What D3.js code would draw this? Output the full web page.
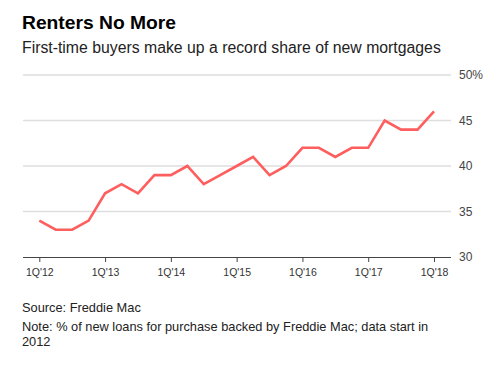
<!DOCTYPE html>
<html><head><meta charset="utf-8">
<script src="https://cdn.jsdelivr.net/npm/d3@7"></script>
<style>
body{margin:0;background:#fff;}
svg{display:block;font-family:"Liberation Sans",Arial,Helvetica,sans-serif;}
</style></head>
<body>
<svg id="chart" width="488" height="366"></svg>
<script>
const quarters = ["1Q'12","2Q'12","3Q'12","4Q'12","1Q'13","2Q'13","3Q'13","4Q'13","1Q'14","2Q'14","3Q'14","4Q'14","1Q'15","2Q'15","3Q'15","4Q'15","1Q'16","2Q'16","3Q'16","4Q'16","1Q'17","2Q'17","3Q'17","4Q'17","1Q'18"];
const shareValues = [34,33,33,34,37,38,37,39,39,40,38,39,40,41,39,40,42,42,41,42,42,45,44,44,46];
const xTickLabels = ["1Q'12","1Q'13","1Q'14","1Q'15","1Q'16","1Q'17","1Q'18"];
const yTickValues = [30,35,40,45,50];

(function(){
const svg = d3.select("#chart");
const mLeft = 23, mRight = 451, mTop = 75, mBottom = 257;

const x = d3.scalePoint().domain(quarters).range([39.3, 434]);
const y = d3.scaleLinear().domain([30,50]).range([mBottom, mTop]);

// title
svg.append("text").attr("x",22).attr("y",29).attr("font-size",17.5).attr("font-weight","bold").attr("fill","#000")
  .attr("textLength",154).attr("lengthAdjust","spacingAndGlyphs").text("Renters No More");
svg.append("text").attr("x",22).attr("y",53).attr("font-size",15.8).attr("fill","#222").text("First-time buyers make up a record share of new mortgages");

// gridlines
svg.append("g").selectAll("line").data(yTickValues.filter(v=>v>30)).join("line")
  .attr("x1",mLeft).attr("x2",mRight).attr("y1",d=>y(d)).attr("y2",d=>y(d))
  .attr("stroke","#dedede").attr("stroke-width",1.3);

// y labels
svg.append("g").selectAll("text").data(yTickValues).join("text")
  .attr("x",459).attr("y",d=>y(d)).attr("dy","0.35em").attr("font-size",12).attr("fill","#444")
  .text(d=>d===50?"50%":d);

// x axis
const xAxis = d3.axisBottom(x).tickValues(xTickLabels).tickSize(5).tickSizeOuter(0);
const gx = svg.append("g").attr("transform",`translate(0,${mBottom})`).call(xAxis);
gx.select(".domain").attr("d",`M${mLeft},0.5H${mRight}`).attr("stroke","#444");
gx.selectAll(".tick line").attr("stroke","#444");
gx.selectAll(".tick text").attr("font-size",10.5).attr("fill","#333").attr("font-family","'Liberation Sans',Arial,sans-serif").attr("dy","1em");

// line
const line = d3.line().x((d,i)=>x(quarters[i])).y(d=>y(d));
svg.append("path").datum(shareValues).attr("d",line).attr("fill","none")
  .attr("stroke","#ff5e5e").attr("stroke-width",2.6).attr("stroke-linejoin","miter");

// footer
svg.append("text").attr("x",22).attr("y",312).attr("font-size",12.8).attr("fill","#222").text("Source: Freddie Mac");
svg.append("text").attr("x",22).attr("y",331).attr("font-size",12.8).attr("fill","#222").text("Note: % of new loans for purchase backed by Freddie Mac; data start in");
svg.append("text").attr("x",22).attr("y",346).attr("font-size",12.8).attr("fill","#222").text("2012");
})();
</script>
</body></html>
